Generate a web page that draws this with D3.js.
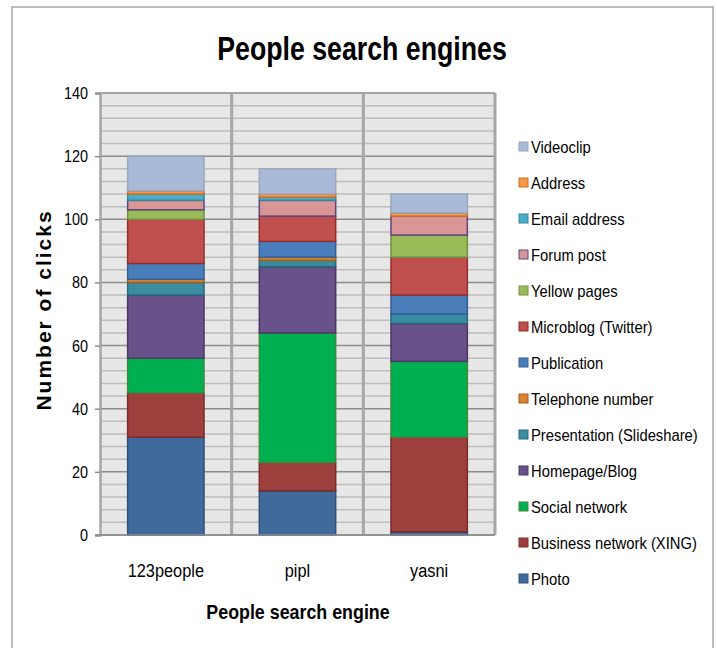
<!DOCTYPE html>
<html>
<head>
<meta charset="utf-8">
<script src="https://cdn.jsdelivr.net/npm/d3@7"></script>
<style>
  body { margin: 0; background: #fff; }
  text { font-family: "Liberation Sans", Arial, sans-serif; }
</style>
</head>
<body>
<div id="chart"></div>
<script>
var engines = ["123people", "pipl", "yasni"];
var seriesNames = ["Photo", "Business network (XING)", "Social network", "Homepage/Blog",
  "Presentation (Slideshare)", "Telephone number", "Publication", "Microblog (Twitter)",
  "Yellow pages", "Forum post", "Email address", "Address", "Videoclip"];
var photo        = [31, 14, 1];
var business     = [14, 9, 30];
var social       = [11, 41, 24];
var homepage     = [20, 21, 12];
var presentation = [4, 2, 3];
var telephone    = [1, 1, 0];
var publication  = [5, 5, 6];
var microblog    = [14, 8, 12];
var yellowpages  = [3, 0, 7];
var forumpost    = [3, 5, 6];
var email        = [2, 1, 0];
var address      = [1, 1, 1];
var videoclip    = [11, 8, 6];
var yTicks = [0, 20, 40, 60, 80, 100, 120, 140];

var seriesValues = [photo, business, social, homepage, presentation, telephone, publication,
  microblog, yellowpages, forumpost, email, address, videoclip];
var fills   = ["#416a9c", "#9e413e", "#00b050", "#69518a", "#3a8ca0", "#d9822f", "#4a7ebb",
  "#c0504d", "#9bbb59", "#d99694", "#4bacc6", "#f79646", "#a9b9d8"];
var strokes = ["#2f4f78", "#772c2a", "#3f8a3a", "#4a3863", "#29677a", "#a85d1c", "#355e92",
  "#922f2d", "#739044", "#5d4680", "#3185a0", "#c8722a", "#9ba6b8"];

var width = 717, height = 648;
var svg = d3.select("#chart").append("svg").attr("width", width).attr("height", height);

// narrow text: squeeze horizontally like Arial Narrow
function narrowText(parent, tx, ty, str, size, weight, sx, anchor) {
  var g = parent.append("g").attr("transform", "translate(" + tx + "," + ty + ") scale(" + sx + ",1)");
  return g.append("text").attr("x", 0).attr("y", 0)
    .attr("text-anchor", anchor || "start")
    .text(str)
    .style("font-size", size + "px")
    .style("font-weight", weight || "normal")
    .style("fill", "#000");
}

// outer chart border
svg.append("rect").attr("x", 12).attr("y", 7).attr("width", 701).attr("height", 650)
  .style("fill", "white").style("stroke", "#a6a6a6").style("stroke-width", 1.5);

var plotL = 100, plotR = 495, plotT = 93, plotB = 535;

var x = d3.scaleBand().domain(engines).range([plotL, plotR]).paddingInner(0).paddingOuter(0);
var y = d3.scaleLinear().domain([0, 140]).range([plotB, plotT]);

// plot background
svg.append("rect").attr("x", plotL).attr("y", plotT).attr("width", plotR - plotL).attr("height", plotB - plotT)
  .style("fill", "#e7e7e7");

// minor gridlines every 4
var minor = d3.range(4, 141, 4).filter(function(d) { return d % 20 !== 0; });
svg.selectAll("line.minor").data(minor).enter().append("line")
  .attr("x1", plotL).attr("x2", plotR)
  .attr("y1", function(d) { return y(d); }).attr("y2", function(d) { return y(d); })
  .style("stroke", "#bdbdbd").style("stroke-width", 1.5);

// major gridlines
svg.selectAll("line.major").data(yTicks).enter().append("line")
  .attr("x1", plotL).attr("x2", plotR)
  .attr("y1", function(d) { return y(d); }).attr("y2", function(d) { return y(d); })
  .style("stroke", "#8c8c8c").style("stroke-width", 1.5);

// vertical category separators
svg.selectAll("line.vsep").data(engines).enter().append("line")
  .attr("x1", function(d) { return x(d) + x.bandwidth(); })
  .attr("x2", function(d) { return x(d) + x.bandwidth(); })
  .attr("y1", plotT).attr("y2", plotB)
  .style("stroke", "#a6a6a6").style("stroke-width", 3);

// stacked bars
var rows = engines.map(function(e, i) {
  var row = { engine: e };
  seriesNames.forEach(function(s, j) { row[s] = seriesValues[j][i]; });
  return row;
});
var stack = d3.stack().keys(seriesNames)(rows);
var barW = x.bandwidth() * 0.58;

var groups = svg.selectAll("g.series").data(stack).enter().append("g")
  .style("fill", function(d, i) { return fills[i]; })
  .style("stroke", function(d, i) { return strokes[i]; })
  .style("stroke-width", 1.5);

groups.selectAll("rect").data(function(d) { return d.filter(function(p) { return p[1] - p[0] > 0; }); })
  .enter().append("rect")
  .attr("x", function(d) { return x(d.data.engine) + (x.bandwidth() - barW) / 2; })
  .attr("y", function(d) { return y(d[1]); })
  .attr("width", barW)
  .attr("height", function(d) { return y(d[0]) - y(d[1]); });

// y axis
var yAxis = svg.append("g").attr("transform", "translate(" + plotL + ",0)")
  .call(d3.axisLeft(y).tickValues(yTicks).tickSize(5).tickFormat(""));
yAxis.select(".domain").style("stroke", "#a6a6a6").style("stroke-width", 2.5);
yAxis.selectAll(".tick line").style("stroke", "#8c8c8c").style("stroke-width", 1.5);
yTicks.forEach(function(t) {
  narrowText(svg, 88, y(t) + 6, t, 17, "normal", 0.85, "end");
});

// bottom axis line
svg.append("line").attr("x1", plotL - 5).attr("x2", plotR).attr("y1", plotB).attr("y2", plotB)
  .style("stroke", "#8c8c8c").style("stroke-width", 1.5);

// x labels
engines.forEach(function(e) {
  narrowText(svg, x(e) + x.bandwidth() / 2, 577, e, 19, "normal", 0.86, "middle");
});

// title
narrowText(svg, 362, 60, "People search engines", 33, "bold", 0.81, "middle");

// axis titles
narrowText(svg, 298, 619, "People search engine", 21, "bold", 0.85, "middle");

svg.append("text").attr("transform", "translate(51,310) rotate(-90)").attr("text-anchor", "middle")
  .text("Number of clicks")
  .style("font-size", "21px").style("font-weight", "bold").style("letter-spacing", "2px")
  .style("fill", "#000");

// legend, top item is last series
var legendOrder = seriesNames.slice().reverse();
var legend = svg.selectAll("g.legend").data(legendOrder).enter().append("g")
  .attr("transform", function(d, i) { return "translate(519," + (147 + i * 36) + ")"; });
legend.append("rect").attr("x", 0).attr("y", -5).attr("width", 9).attr("height", 9)
  .style("fill", function(d) { return fills[seriesNames.indexOf(d)]; })
  .style("stroke", function(d) { return strokes[seriesNames.indexOf(d)]; })
  .style("stroke-width", 1);
legend.each(function(d) {
  narrowText(d3.select(this), 12, 6, d, 17, "normal", 0.87, "start");
});
</script>
</body>
</html>
